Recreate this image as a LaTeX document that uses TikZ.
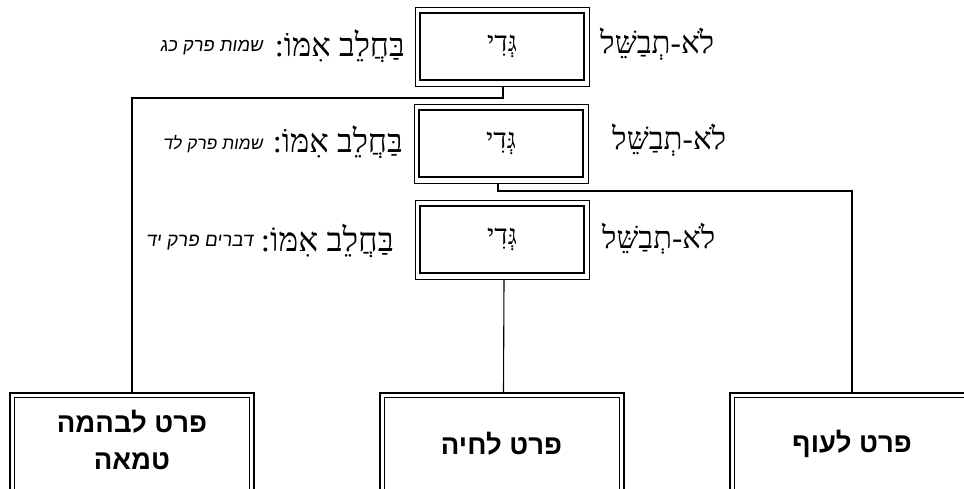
\documentclass[tikz,border=0pt]{standalone}
\usepackage{graphicx}
\usepackage{fontspec}
\TeXXeTstate=1
\newfontfamily\hebserif[Script=Hebrew]{Liberation Serif}
\newfontfamily\hebsans[Script=Hebrew]{Liberation Sans}
\newfontfamily\hebital[Script=Hebrew,FakeSlant=0.15]{Liberation Sans}
% text fitted to a given width
\newcommand{\fitw}[3]{\resizebox{#1}{!}{#2#3}}
\newcommand{\serfont}{\hebserif\fontsize{30}{34}\selectfont}
\newcommand{\smlfont}{\hebital\fontsize{18}{22}\selectfont}
\begin{document}
\begin{tikzpicture}[x=1pt,y=-1pt,
  topbox/.style={draw, line width=1pt, minimum width=174pt, minimum height=79pt, inner sep=0pt,
    path picture={\draw[line width=2pt] ([shift={(5pt,-6pt)}]path picture bounding box.north west) rectangle ([shift={(-5pt,6pt)}]path picture bounding box.south east);}},
  botbox/.style={draw, line width=2pt, minimum width=244pt, minimum height=102pt, inner sep=0pt,
    font=\hebsans\bfseries\fontsize{27.5}{37}\selectfont,
    path picture={\draw[line width=0.9pt] ([shift={(4.5pt,-4.5pt)}]path picture bounding box.north west) rectangle ([shift={(-4.5pt,4.5pt)}]path picture bounding box.south east);}},
  txt/.style={inner sep=0pt},
  conn/.style={draw, line width=1.1pt}
]
\clip (0,0) rectangle (964,488);
\fill[white] (0,0) rectangle (964,488);

% middle-column boxes
\node[topbox] (t1) at (502,46.5) {\fitw{30pt}{\serfont}{\beginR גְּדִי\endR}};
\node[topbox] (t2) at (501,143.5) {\fitw{30pt}{\serfont}{\beginR גְּדִי\endR}};
\node[topbox] (t3) at (502,239.5) {\fitw{30pt}{\serfont}{\beginR גְּדִי\endR}};

% texts row 1
\node[txt, anchor=west] (a1) at (600,44) {\fitw{114pt}{\serfont}{\beginR לֹא-תְבַשֵּׁל\endR}};
\node[txt, anchor=east] (b1) at (405,46) {\fitw{130pt}{\serfont}{\beginR בַּחֲלֵב אִמּוֹ:\endR}};
\node[txt, anchor=east] (c1) at (263,48) {\fitw{103pt}{\smlfont}{\beginR שמות פרק כג\endR}};
% row 2
\node[txt, anchor=west] (a2) at (612,140) {\fitw{114pt}{\serfont}{\beginR לֹא-תְבַשֵּׁל\endR}};
\node[txt, anchor=east] (b2) at (403,142) {\fitw{130pt}{\serfont}{\beginR בַּחֲלֵב אִמּוֹ:\endR}};
\node[txt, anchor=east] (c2) at (263,144) {\fitw{100pt}{\smlfont}{\beginR שמות פרק לד\endR}};
% row 3
\node[txt, anchor=west] (a3) at (602,239) {\fitw{113pt}{\serfont}{\beginR לֹא-תְבַשֵּׁל\endR}};
\node[txt, anchor=east] (b3) at (394,241) {\fitw{133pt}{\serfont}{\beginR בַּחֲלֵב אִמּוֹ:\endR}};
\node[txt, anchor=east] (c3) at (253,243) {\fitw{107pt}{\smlfont}{\beginR דברים פרק יד\endR}};

% bottom boxes
\node[botbox] (bl) at (132,444) {\raisebox{9pt}{\begin{tabular}{@{}c@{}}\beginR פרט לבהמה\endR\\ \beginR טמאה\endR\end{tabular}}};
\node[botbox] (bm) at (501.5,444) {\beginR פרט לחיה\endR};
\node[botbox] (br) at (852,444) {\beginR פרט לעוף\endR};

% connectors
\draw[conn] ([xshift=1pt]t1.south) -- ++(0,11.5) -| (bl.north);
\draw[conn] ([xshift=-3pt]t2.south) -- ++(0,7.5) -| (br.north);
\draw[conn] ([xshift=2pt]t3.south) -- ([xshift=2pt]bm.north);
\end{tikzpicture}
\end{document}
